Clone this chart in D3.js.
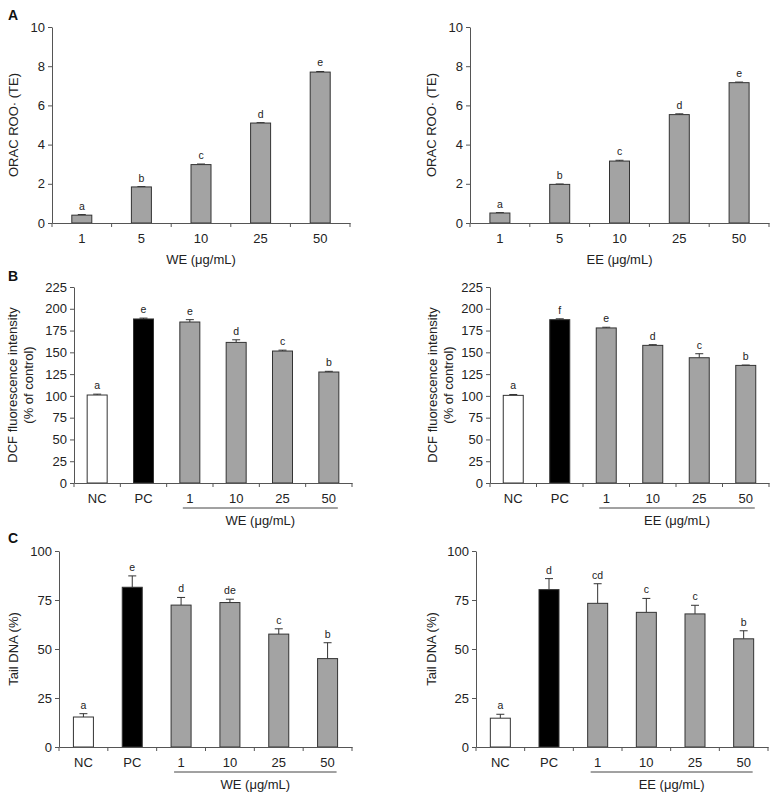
<!DOCTYPE html>
<html>
<head>
<meta charset="utf-8">
<script src="https://cdn.jsdelivr.net/npm/d3@7"></script>
<style>
  body { margin: 0; background: #fff; }
  text { font-family: "Liberation Sans", Arial, sans-serif; }
</style>
</head>
<body>
<div id="chart"></div>
<script>
// Categories
const doses = ["1", "5", "10", "25", "50"];
const groups = ["NC", "PC", "1", "10", "25", "50"];

// Tick values
const yTicksA = [0, 2, 4, 6, 8, 10];
const yTicksB = [0, 25, 50, 75, 100, 125, 150, 175, 200, 225];
const yTicksC = [0, 25, 50, 75, 100];

// A: ORAC ROO· (TE)
const oracWE = [0.40, 1.84, 2.98, 5.10, 7.70];
const oracWEerr = [0.03, 0.02, 0.03, 0.02, 0.03];
const oracEE = [0.51, 1.97, 3.16, 5.53, 7.16];
const oracEEerr = [0.02, 0.02, 0.04, 0.04, 0.03];
const oracLetters = ["a", "b", "c", "d", "e"];

// B: DCF fluorescence intensity (% of control)
const dcfWE = [101, 188.3, 184.8, 161.4, 151.5, 127.4];
const dcfWEerr = [1, 1, 2.7, 3, 1, 0.8];
const dcfWELetters = ["a", "e", "e", "d", "c", "b"];
const dcfEE = [100.6, 187.5, 178, 158, 143.8, 135];
const dcfEEerr = [1, 1, 0.8, 0.8, 4.6, 0.4];
const dcfEELetters = ["a", "f", "e", "d", "c", "b"];

// C: Tail DNA (%)
const tailWE = [15.3, 81.5, 72.4, 73.7, 57.6, 45.1];
const tailWEerr = [1.7, 5.8, 3.9, 1.7, 2.7, 8.1];
const tailWELetters = ["a", "e", "d", "de", "c", "b"];
const tailEE = [14.7, 80.3, 73.3, 68.7, 67.9, 55.2];
const tailEEerr = [2, 5.6, 10, 7.1, 4.4, 4.1];
const tailEELetters = ["a", "d", "cd", "c", "c", "b"];

const axisColor = "#555";
const barStroke = "#333";
const gray = "#a3a3a3";

const svg = d3.select("#chart")
    .append("svg")
    .attr("width", 777)
    .attr("height", 801);

const fillFor = c => c === "NC" ? "#fff" : (c === "PC" ? "#000" : gray);

function drawPanel(o) {
    const x = d3.scaleBand().domain(o.cats).range([o.x0, o.x1]);
    const y = d3.scaleLinear().domain([0, o.ymax]).range([o.y1, o.y0]);
    const g = svg.append("g");
    const bw = 20;

    const data = o.cats.map((c, i) => ({c: c, v: o.values[i], e: o.errs[i], l: o.letters[i]}));

    // error bars (upper only)
    g.selectAll(".err")
        .data(data)
        .enter().append("path")
        .attr("d", d => {
            const cx = x(d.c) + x.bandwidth() / 2;
            return "M" + cx + "," + y(d.v) + "V" + y(d.v + d.e) +
                "M" + (cx - 4) + "," + y(d.v + d.e) + "H" + (cx + 4);
        })
        .attr("stroke", barStroke)
        .attr("stroke-width", 1)
        .attr("fill", "none");

    // bars
    g.selectAll(".bar")
        .data(data)
        .enter().append("rect")
        .attr("x", d => x(d.c) + x.bandwidth() / 2 - bw / 2)
        .attr("y", d => y(d.v))
        .attr("width", bw)
        .attr("height", d => y(0) - y(d.v))
        .attr("fill", d => fillFor(d.c))
        .attr("stroke", barStroke)
        .attr("stroke-width", 1);

    // significance letters
    g.selectAll(".letter")
        .data(data)
        .enter().append("text")
        .attr("x", d => x(d.c) + x.bandwidth() / 2)
        .attr("y", d => y(d.v + d.e) - 5)
        .attr("text-anchor", "middle")
        .attr("font-size", 10.5)
        .attr("fill", "#222")
        .text(d => d.l);

    // y axis
    const ya = g.append("g")
        .attr("transform", "translate(" + o.x0 + ",0)")
        .call(d3.axisLeft(y).tickValues(o.yTicks).tickSize(4).tickSizeOuter(0).tickPadding(3));
    ya.selectAll("path, line").attr("stroke", axisColor);
    ya.selectAll("text").attr("font-size", 13).attr("fill", "#222")
        .style("font-family", "'Liberation Sans', Arial, sans-serif");

    // x axis
    const xa = g.append("g")
        .attr("transform", "translate(0," + o.y1 + ")")
        .call(d3.axisBottom(x).tickSize(0).tickSizeOuter(0).tickPadding(o.labelPad));
    xa.select(".domain").attr("stroke", axisColor);
    xa.selectAll("text").attr("font-size", 13).attr("fill", "#222")
        .style("font-family", "'Liberation Sans', Arial, sans-serif");

    // boundary ticks between categories
    const edges = o.cats.map(c => x(c)).concat([o.x1]);
    g.selectAll(".edge")
        .data(edges)
        .enter().append("line")
        .attr("x1", d => d).attr("x2", d => d)
        .attr("y1", o.y1).attr("y2", o.y1 + 4)
        .attr("stroke", axisColor);

    // x title
    if (o.underline) {
        const xs = x("1") + x.bandwidth() / 2 - 7;
        const xe = x("50") + x.bandwidth() / 2 + 9;
        g.append("line")
            .attr("x1", xs).attr("x2", xe)
            .attr("y1", o.y1 + 25).attr("y2", o.y1 + 25)
            .attr("stroke", "#444");
        g.append("text")
            .attr("x", (xs + xe) / 2)
            .attr("y", o.y1 + 42)
            .attr("text-anchor", "middle")
            .attr("font-size", 13)
            .attr("fill", "#222")
            .text(o.xTitle);
    } else {
        g.append("text")
            .attr("x", (o.x0 + o.x1) / 2)
            .attr("y", o.y1 + 41)
            .attr("text-anchor", "middle")
            .attr("font-size", 13)
            .attr("fill", "#222")
            .text(o.xTitle);
    }

    // y title (one or two lines)
    o.yTitle.forEach((t, i) => {
        g.append("text")
            .attr("transform", "translate(" + (o.yTitleX + i * 16) + "," + ((o.y0 + o.y1) / 2) + ") rotate(-90)")
            .attr("text-anchor", "middle")
            .attr("font-size", 13)
            .attr("fill", "#222")
            .text(t);
    });

    // panel letter
    if (o.tag) {
        svg.append("text")
            .attr("x", 8)
            .attr("y", o.tagY)
            .attr("font-size", 14)
            .attr("font-weight", "bold")
            .attr("fill", "#111")
            .text(o.tag);
    }
}

// Panel A
drawPanel({tag: "A", tagY: 20, cats: doses, values: oracWE, errs: oracWEerr, letters: oracLetters,
    ymax: 10, yTicks: yTicksA, x0: 52, x1: 350, y0: 27, y1: 223, labelPad: 11,
    xTitle: "WE (\u03bcg/mL)", yTitle: ["ORAC ROO\u00b7 (TE)"], yTitleX: 18});
drawPanel({cats: doses, values: oracEE, errs: oracEEerr, letters: oracLetters,
    ymax: 10, yTicks: yTicksA, x0: 470, x1: 769, y0: 27, y1: 223, labelPad: 11,
    xTitle: "EE (\u03bcg/mL)", yTitle: ["ORAC ROO\u00b7 (TE)"], yTitleX: 436});

// Panel B
drawPanel({tag: "B", tagY: 281, cats: groups, values: dcfWE, errs: dcfWEerr, letters: dcfWELetters,
    ymax: 225, yTicks: yTicksB, x0: 74, x1: 352, y0: 287, y1: 483, labelPad: 11, underline: true,
    xTitle: "WE (\u03bcg/mL)", yTitle: ["DCF fluorescence intensity", "(% of control)"], yTitleX: 17});
drawPanel({cats: groups, values: dcfEE, errs: dcfEEerr, letters: dcfEELetters,
    ymax: 225, yTicks: yTicksB, x0: 490, x1: 769, y0: 287, y1: 483, labelPad: 11, underline: true,
    xTitle: "EE (\u03bcg/mL)", yTitle: ["DCF fluorescence intensity", "(% of control)"], yTitleX: 437});

// Panel C
drawPanel({tag: "C", tagY: 543, cats: groups, values: tailWE, errs: tailWEerr, letters: tailWELetters,
    ymax: 100, yTicks: yTicksC, x0: 59, x1: 352, y0: 551, y1: 747, labelPad: 11, underline: true,
    xTitle: "WE (\u03bcg/mL)", yTitle: ["Tail DNA (%)"], yTitleX: 18});
drawPanel({cats: groups, values: tailEE, errs: tailEEerr, letters: tailEELetters,
    ymax: 100, yTicks: yTicksC, x0: 476, x1: 768, y0: 551, y1: 747, labelPad: 11, underline: true,
    xTitle: "EE (\u03bcg/mL)", yTitle: ["Tail DNA (%)"], yTitleX: 436});
</script>
</body>
</html>
